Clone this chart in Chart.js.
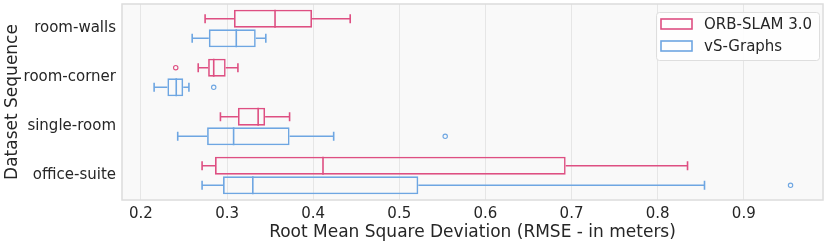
<!DOCTYPE html>
<html>
<head>
<meta charset="utf-8">
<script src="https://cdn.jsdelivr.net/npm/chart.js@4.4.1/dist/chart.umd.min.js"></script>
<style>
  html, body { margin: 0; padding: 0; background: #fff; }
  #wrap { width: 831px; height: 245px; position: relative; }
</style>
</head>
<body>
<div id="wrap"><canvas id="rmseChart"></canvas></div>
<script>
const categories = ["room-walls", "room-corner", "single-room", "office-suite"];
const xTicks = [0.2, 0.3, 0.4, 0.5, 0.6, 0.7, 0.8, 0.9];

// ORB-SLAM 3.0 box stats per sequence
const orbMin = [0.2745, 0.2665, 0.2923, 0.271];
const orbQ1 = [0.308, 0.278, 0.3126, 0.286];
const orbMed = [0.3557, 0.2845, 0.3361, 0.4114];
const orbQ3 = [0.3987, 0.2984, 0.3442, 0.6932];
const orbMax = [0.443, 0.3126, 0.3726, 0.8347];
const orbOutliers = [[1, 0.2404]];

// vS-Graphs box stats per sequence
const vsMin = [0.2595, 0.2153, 0.2427, 0.271];
const vsQ1 = [0.2788, 0.2307, 0.2768, 0.2953];
const vsMed = [0.3107, 0.241, 0.3076, 0.3299];
const vsQ3 = [0.3333, 0.2491, 0.3726, 0.5221];
const vsMax = [0.345, 0.2557, 0.4238, 0.8544];
const vsOutliers = [[1, 0.2845], [2, 0.5533], [3, 0.9543]];

const PINK = "#de4f82";
const BLUE = "#6ea6e2";
const FONT = "'DejaVu Sans', sans-serif";

function boxDataset(label, q1, q3, color, stats) {
  return {
    label,
    data: q1.map((v, i) => [v, q3[i]]),
    backgroundColor: "rgba(0,0,0,0)",
    borderColor: color,
    borderWidth: 1.6,
    borderSkipped: false,
    barPercentage: 0.92,
    categoryPercentage: 0.8,
    stats,
  };
}

const boxExtras = {
  id: "boxExtras",
  beforeDraw(chart) {
    const { ctx, chartArea: a } = chart;
    ctx.save();
    ctx.fillStyle = "#f9f9f9";
    ctx.fillRect(a.left, a.top, a.right - a.left, a.bottom - a.top);
    ctx.restore();
  },
  afterDatasetsDraw(chart) {
    const { ctx } = chart;
    const xs = chart.scales.x;
    chart.data.datasets.forEach((ds, di) => {
      const meta = chart.getDatasetMeta(di);
      const s = ds.stats;
      ctx.save();
      ctx.strokeStyle = ds.borderColor;
      ctx.lineWidth = 1.6;
      meta.data.forEach((bar, i) => {
        const y = bar.y;
        const h = bar.height;
        const pMin = xs.getPixelForValue(s.min[i]);
        const pQ1 = xs.getPixelForValue(s.q1[i]);
        const pMed = xs.getPixelForValue(s.med[i]);
        const pQ3 = xs.getPixelForValue(s.q3[i]);
        const pMax = xs.getPixelForValue(s.max[i]);
        ctx.beginPath();
        ctx.moveTo(pMed, y - h / 2);
        ctx.lineTo(pMed, y + h / 2);
        ctx.moveTo(pMin, y);
        ctx.lineTo(pQ1, y);
        ctx.moveTo(pQ3, y);
        ctx.lineTo(pMax, y);
        ctx.moveTo(pMin, y - h / 4);
        ctx.lineTo(pMin, y + h / 4);
        ctx.moveTo(pMax, y - h / 4);
        ctx.lineTo(pMax, y + h / 4);
        ctx.stroke();
      });
      ctx.lineWidth = 1.1;
      s.outliers.forEach(([ci, v]) => {
        const bar = meta.data[ci];
        ctx.beginPath();
        ctx.arc(xs.getPixelForValue(v), bar.y, 2.2, 0, Math.PI * 2);
        ctx.stroke();
      });
      ctx.restore();
    });
  },
  afterDraw(chart) {
    const { ctx, chartArea: a } = chart;
    ctx.save();
    ctx.strokeStyle = "#dcdcdc";
    ctx.lineWidth = 1.5;
    ctx.strokeRect(a.left, a.top, a.right - a.left, a.bottom - a.top);

    // legend
    const lx = 656, ly = 12, lw = 163, lh = 48;
    ctx.fillStyle = "rgba(255,255,255,0.85)";
    ctx.strokeStyle = "#dedede";
    ctx.lineWidth = 1;
    ctx.beginPath();
    ctx.roundRect(lx + 0.5, ly + 0.5, lw, lh, 3);
    ctx.fill();
    ctx.stroke();
    ctx.font = "15px " + FONT;
    ctx.textBaseline = "middle";
    chart.data.datasets.forEach((ds, i) => {
      const cy = 24 + i * 22;
      ctx.strokeStyle = ds.borderColor;
      ctx.lineWidth = 1.6;
      ctx.strokeRect(661, cy - 5, 31, 10);
      ctx.fillStyle = "#262626";
      ctx.fillText(ds.label, 704, cy + 1);
    });
    ctx.restore();
  },
};

new Chart(document.getElementById("rmseChart"), {
  type: "bar",
  data: {
    labels: categories,
    datasets: [
      boxDataset("ORB-SLAM 3.0", orbQ1, orbQ3, PINK,
        { min: orbMin, q1: orbQ1, med: orbMed, q3: orbQ3, max: orbMax, outliers: orbOutliers }),
      boxDataset("vS-Graphs", vsQ1, vsQ3, BLUE,
        { min: vsMin, q1: vsQ1, med: vsMed, q3: vsQ3, max: vsMax, outliers: vsOutliers }),
    ],
  },
  options: {
    indexAxis: "y",
    responsive: true,
    maintainAspectRatio: false,
    animation: false,
    layout: { padding: { top: 4, right: 8, left: 0, bottom: 0 } },
    plugins: {
      legend: { display: false },
      tooltip: { enabled: false },
    },
    scales: {
      x: {
        type: "linear",
        min: 0.178,
        max: 0.992,
        afterBuildTicks(scale) {
          scale.ticks = xTicks.map((v) => ({ value: v }));
        },
        afterFit(scale) {
          scale.height = 45;
          scale.paddingLeft = 0;
          scale.paddingRight = 0;
        },
        grid: { color: "#e6e6e6", lineWidth: 1, drawTicks: false },
        border: { display: false },
        ticks: {
          padding: 5,
          color: "#262626",
          font: { family: FONT, size: 15 },
          callback: (v) => Number(v).toFixed(1),
        },
        title: {
          display: true,
          text: "Root Mean Square Deviation (RMSE - in meters)",
          color: "#262626",
          font: { family: FONT, size: 17 },
          padding: { top: 0, bottom: 2 },
        },
      },
      y: {
        afterFit(scale) {
          scale.width = 122;
          scale.paddingTop = 0;
          scale.paddingBottom = 0;
        },
        grid: { display: false, drawTicks: false },
        border: { display: false },
        ticks: {
          padding: 6,
          color: "#262626",
          font: { family: FONT, size: 15 },
        },
        title: {
          display: true,
          text: "Dataset Sequence",
          color: "#262626",
          font: { family: FONT, size: 17 },
          padding: { top: 2, bottom: 0 },
        },
      },
    },
  },
  plugins: [boxExtras],
});
</script>
</body>
</html>
